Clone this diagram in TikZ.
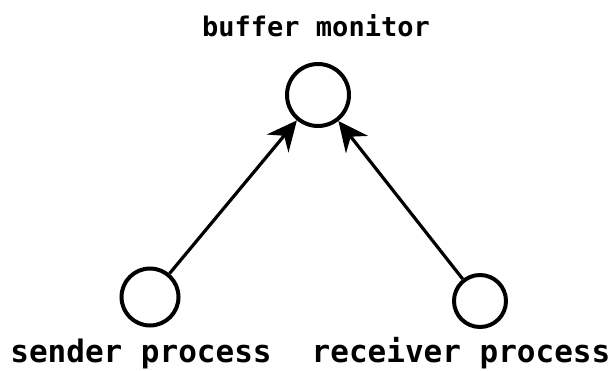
\documentclass[tikz,border=0pt]{standalone}
\usepackage{fontspec}
\setmainfont{DejaVu Sans Mono}
\usetikzlibrary{arrows.meta}
\tikzset {>={Stealth[length=30pt,width=28pt,inset=10pt]}}
\tikzset{proc/.style={draw,circle,line width=4pt,inner sep=0pt},
  lbl/.style={anchor=base,font=\bfseries\fontsize{31}{34}\selectfont}}

\begin{document}
\begin{tikzpicture}[x=1pt,y=-1pt]
\useasboundingbox (0,0) rectangle (616,370);
\node[proc,minimum size=62pt] (monitor) at (318,95) {};
\node[proc,minimum size=57pt] (sender) at (150,297) {};
\node[proc,minimum size=52pt] (receiver) at (480,301) {};
\node[lbl,font=\bfseries\fontsize{27}{30}\selectfont] (tmonitor) at (316,36) {buffer monitor};
\node[lbl] (tsender) at (141,362) {sender process};
\node[lbl] (treceiver) at (461,362) {receiver process};
\draw[->,line width=3.2pt] (sender) -- (monitor);
\draw[->,line width=3.2pt] (receiver) -- (monitor);
\end{tikzpicture}
\end{document}
